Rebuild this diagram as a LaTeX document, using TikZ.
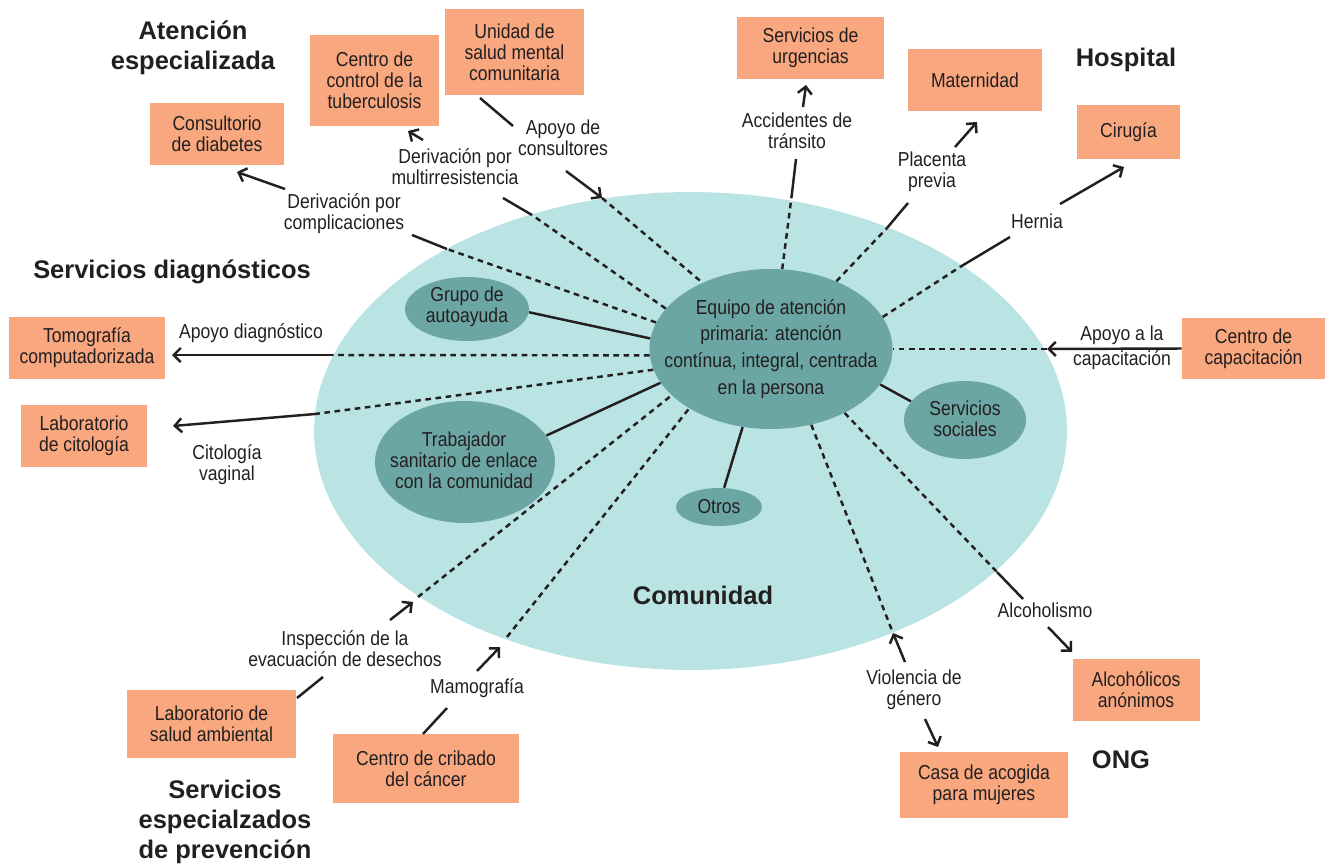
\documentclass[tikz,border=0pt]{standalone}
\usepackage{fontspec}
\setmainfont{Liberation Sans}
\newfontfamily\condf{Liberation Sans}[FakeStretch=0.87]
\usetikzlibrary{arrows.meta,shapes.geometric}
\definecolor{salmon}{HTML}{F8A77E}
\definecolor{lteal}{HTML}{BAE3E4}
\definecolor{dteal}{HTML}{6BA6A4}
\definecolor{ink}{HTML}{231F20}
\newcommand{\bodyfont}{\condf\fontsize{11.5pt}{11.9pt}\selectfont}
\newcommand{\eqfont}{\condf\fontsize{11.5pt}{15.3pt}\selectfont}
\newcommand{\titlefont}{\bfseries\fontsize{14.5pt}{17pt}\selectfont}
\begin{document}
\begin{tikzpicture}[x=0.02cm,y=-0.02cm,
  box/.style={fill=salmon, inner sep=0pt, align=center, font=\bodyfont, text=ink},
  blob/.style={ellipse, fill=dteal, inner sep=0pt},
  lab/.style={inner sep=0pt, align=center, font=\bodyfont, text=ink},
  ttl/.style={inner sep=0pt, align=center, font=\titlefont, text=ink},
  sl/.style={draw=ink, line width=1.4pt},
  dl/.style={draw=ink, line width=1.4pt, dash pattern=on 3.2pt off 2.6pt},
  al/.style={draw=ink, line width=1.4pt, -{Straight Barb[length=4pt,width=8pt]}},
]
\useasboundingbox (0,0) rectangle (1325,865);

% community ellipse
\node[ellipse, fill=lteal, inner sep=0pt, minimum width=15.06cm, minimum height=9.56cm] (com) at (690.5,431) {};

% inner ellipses
\node[blob, minimum width=4.86cm, minimum height=3.2cm] (eq) at (771,349) {};
\node[lab, font=\eqfont] (eqt) at (eq) {Equipo de atención\\primaria: atención\\contínua, integral, centrada\\en la persona};
\node[blob, minimum width=2.48cm, minimum height=1.28cm] (grupo) at (467,309) {};
\node[lab] (grupot) at (467,307) {Grupo de\\autoayuda};
\node[blob, minimum width=3.6cm, minimum height=2.44cm] (trab) at (465,462) {};
\node[lab] (trabt) at (464,460) {Trabajador\\sanitario de enlace\\con la comunidad};
\node[blob, minimum width=2.44cm, minimum height=1.56cm] (ss) at (965,420) {};
\node[lab] (sst) at (965,419) {Servicios\\sociales};
\node[blob, minimum width=1.72cm, minimum height=0.76cm] (otros) at (719,507) {};
\node[lab] (otrost) at (719,507) {Otros};

% boxes
\node[box, minimum width=2.68cm, minimum height=1.24cm] (diab) at (217,134) {Consultorio\\de diabetes};
\node[box, minimum width=2.58cm, minimum height=1.82cm] (tb) at (374.5,80.5) {Centro de\\control de la\\tuberculosis};
\node[box, minimum width=2.78cm, minimum height=1.72cm] (unid) at (514.5,52) {Unidad de\\salud mental\\comunitaria};
\node[box, minimum width=2.94cm, minimum height=1.24cm] (urg) at (810.5,48) {Servicios de\\urgencias};
\node[box, minimum width=2.68cm, minimum height=1.24cm] (mat) at (975,80) {Maternidad};
\node[box, minimum width=2.06cm, minimum height=1.08cm] (cir) at (1128.5,132) {Cirugía};
\node[box, minimum width=2.86cm, minimum height=1.22cm] (cap) at (1253.5,348.5) {Centro de\\capacitación};
\node[box, minimum width=3.12cm, minimum height=1.24cm] (tom) at (87,348) {Tomografía\\computadorizada};
\node[box, minimum width=2.52cm, minimum height=1.24cm] (cit) at (84,436) {Laboratorio\\de citología};
\node[box, minimum width=3.38cm, minimum height=1.36cm] (lsa) at (211.5,724) {Laboratorio de\\salud ambiental};
\node[box, minimum width=3.72cm, minimum height=1.38cm] (crib) at (426,768.5) {Centro de cribado\\del cáncer};
\node[box, minimum width=3.36cm, minimum height=1.32cm] (casa) at (984,785) {Casa de acogida\\para mujeres};
\node[box, minimum width=2.54cm, minimum height=1.24cm] (alc) at (1136,690) {Alcohólicos\\anónimos};

% titles
\node[ttl] (tAE) at (193,48) {Atención\\especializada};
\node[ttl] (tH) at (1126,60) {Hospital};
\node[ttl] (tSD) at (172,272) {Servicios diagnósticos};
\node[ttl] (tCom) at (703,595) {Comunidad};
\node[ttl] (tONG) at (1121,760) {ONG};
\node[ttl] (tSEP) at (225,822) {Servicios\\especialzados\\de prevención};

% labels
\node[lab] (l1) at (344,214) {Derivación por\\complicaciones};
\node[lab] (l2) at (455,167) {Derivación por\\multirresistencia};
\node[lab] (l3) at (563,138) {Apoyo de\\consultores};
\node[lab] (l4) at (797,131) {Accidentes de\\tránsito};
\node[lab] (l5) at (932,172) {Placenta\\previa};
\node[lab] (l6) at (1037,221) {Hernia};
\node[lab] (l7) at (1122,348) {Apoyo a la\\[0.08cm]capacitación};
\node[lab] (l8) at (251,333) {Apoyo diagnóstico};
\node[lab] (l9) at (227,465) {Citología\\vaginal};
\node[lab] (l10) at (345,649) {Inspección de la\\evacuación de desechos};
\node[lab] (l11) at (477,688) {Mamografía};
\node[lab] (l12) at (914,690) {Violencia de\\género};
\node[lab] (l13) at (1045,610) {Alcoholismo};

% solid links to inner ellipses
\draw[sl] (eq.175) -- (grupo.-3);
\draw[sl] (eq.197) -- (trab.18);
\draw[sl] (eq.250) -- (otros.75);
\draw[sl] (eq.342) -- (ss.161);

% 1 complicaciones -> diabetes
\coordinate (a1) at (447,249); \coordinate (a2) at (412,235);
\coordinate (a3) at (285,189); \coordinate (a4) at (237,172);
\draw[dl] (eq.167.8) -- (a1);
\draw[sl] (a1) -- (a2);
\draw[al] (a3) -- (a4);

% 2 multirresistencia -> tuberculosis
\coordinate (b1) at (532,215); \coordinate (b2) at (503,198);
\coordinate (b3) at (423,140); \coordinate (b4) at (408,131);
\draw[dl] (eq.159) -- (b1);
\draw[sl] (b1) -- (b2);
\draw[al] (b3) -- (b4);

% 3 consultores: unidad -> eq
\coordinate (c1) at (480,98); \coordinate (c2) at (513,126);
\coordinate (c3) at (566,171); \coordinate (c4) at (602,198);
\draw[sl] (c1) -- (c2);
\draw[al] (c3) -- (c4);
\draw[dl] (c4) -- (eq.136.7);

% 4 accidentes -> urgencias
\coordinate (d1) at (792,193); \coordinate (d2) at (796,159);
\coordinate (d3) at (803,107); \coordinate (d4) at (806,85);
\draw[dl] (eq.82) -- (d1);
\draw[sl] (d1) -- (d2);
\draw[al] (d3) -- (d4);

% 5 placenta -> maternidad
\coordinate (e1) at (887,228); \coordinate (e2) at (908,203);
\coordinate (e3) at (955,147); \coordinate (e4) at (977,122);
\draw[dl] (eq.46) -- (e1);
\draw[sl] (e1) -- (e2);
\draw[al] (e3) -- (e4);

% 6 hernia -> cirugia
\coordinate (f1) at (960,267); \coordinate (f2) at (1010,237);
\coordinate (f3) at (1060,204); \coordinate (f4) at (1124,167);
\draw[dl] (eq.16) -- (f1);
\draw[sl] (f1) -- (f2);
\draw[al] (f3) -- (f4);

% 7 capacitacion -> eq
\coordinate (g1) at (1047,349);
\draw[al] (cap.west) -- (g1);
\draw[dl] (g1) -- (eq.0);

% 8 diagnostico -> tomografia
\coordinate (h1) at (333,355); \coordinate (h2) at (172,355);
\draw[dl] (eq.183) -- (h1);
\draw[al] (h1) -- (h2);

% 9 citologia
\coordinate (i1) at (315,414); \coordinate (i2) at (173,426);
\draw[dl] (eq.190.6) -- (i1);
\draw[al] (i1) -- (i2);

% 10 inspeccion: lab salud ambiental -> eq
\coordinate (j1) at (297,698); \coordinate (j2) at (323,677);
\coordinate (j3) at (390,620); \coordinate (j4) at (413,602);
\coordinate (j5) at (418,597);
\draw[sl] (j1) -- (j2);
\draw[al] (j3) -- (j4);
\draw[dl] (j5) -- (eq.205);

% 11 mamografia: cribado -> eq
\coordinate (k1) at (423,734); \coordinate (k2) at (447,708);
\coordinate (k3) at (477,671); \coordinate (k4) at (500,647);
\coordinate (k5) at (507,637);
\draw[sl] (k1) -- (k2);
\draw[al] (k3) -- (k4);
\draw[dl] (k5) -- (eq.216.5);

% 12 violencia
\coordinate (m1) at (893,633); \coordinate (m2) at (905,662);
\coordinate (m3) at (925,719); \coordinate (m4) at (938,747);
\draw[dl] (eq.298) -- (m1);
\draw[al] (m2) -- (m1);
\draw[al] (m3) -- (m4);

% 13 alcoholismo
\coordinate (n1) at (997,572); \coordinate (n2) at (1023,599);
\coordinate (n3) at (1048,627); \coordinate (n4) at (1072,652);
\draw[dl] (eq.319) -- (n1);
\draw[sl] (n1) -- (n2);
\draw[al] (n3) -- (n4);
\end{tikzpicture}
\end{document}
